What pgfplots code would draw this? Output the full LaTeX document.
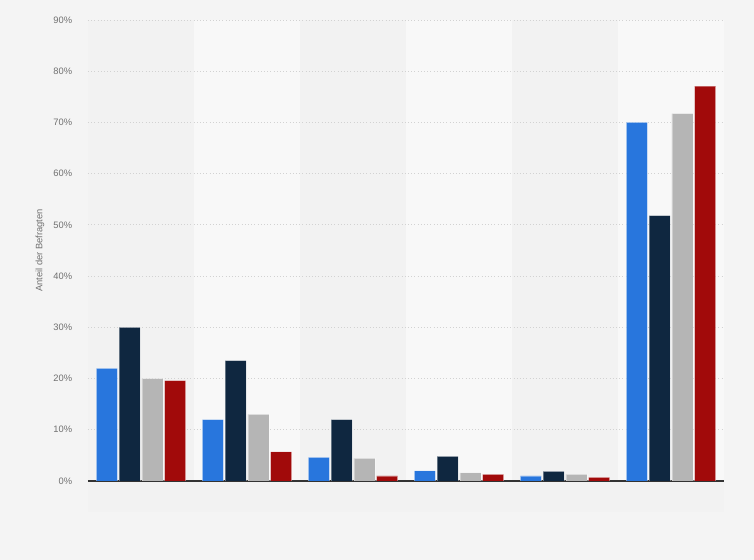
\documentclass[border=0pt]{standalone}
\usepackage{pgfplots}
\pgfplotsset{compat=1.18}
\usepackage{fontspec}
\setmainfont{Liberation Sans}

\definecolor{bg}{HTML}{F4F4F4}
\definecolor{banddark}{HTML}{F2F2F2}
\definecolor{bandlight}{HTML}{F8F8F8}
\definecolor{bandlow}{HTML}{F2F2F2}
\definecolor{sblue}{HTML}{2876DD}
\definecolor{snavy}{HTML}{0F2740}
\definecolor{sgray}{HTML}{B5B5B5}
\definecolor{sred}{HTML}{A10A0A}
\definecolor{ticktext}{HTML}{707070}
\definecolor{gridc}{HTML}{D2D2D2}

\begin{document}
\begin{tikzpicture}[x=1pt,y=1pt]
% 1px = 0.75pt
\fill[bg] (0,0) rectangle (565.5,420);
% strip below the axis
\fill[bandlow] (66,36) rectangle (543,59.25);
% column bands
\fill[banddark]  (66,59.25)    rectangle (145.5,405);
\fill[bandlight] (145.5,59.25) rectangle (225,405);
\fill[banddark]  (225,59.25)   rectangle (304.5,405);
\fill[bandlight] (304.5,59.25) rectangle (384,405);
\fill[banddark]  (384,59.25)   rectangle (463.5,405);
\fill[bandlight] (463.5,59.25) rectangle (543,405);

\begin{axis}[
  at={(66pt,59.25pt)}, anchor=south west,
  scale only axis,
  width=477pt, height=345.75pt,
  xmin=-0.5, xmax=5.5,
  ymin=0, ymax=90,
  ybar=1.35pt, bar width=15.75pt,
  xtick=\empty,
  ytick={0,10,...,90},
  yticklabel={\pgfmathprintnumber{\tick}\%},
  /pgf/number format/assume math mode=true,
  ticklabel style={font=\fontsize{7}{8}\selectfont, text=ticktext},
  yticklabel style={xshift=-8.4pt},
  major tick length=0pt,
  ymajorgrids,
  grid style={gridc, dotted, line width=0.6pt},
  axis x line*=bottom,
  axis y line*=left,
  y axis line style={draw=none},
  x axis line style={-, color=black!80, line width=0.9pt},
  ylabel={Anteil der Befragten},
  every axis y label/.style={at={(axis description cs:0,0.5)}, xshift=-36pt, rotate=90, anchor=center, font=\fontsize{7}{8}\selectfont, text=ticktext},
  every axis plot/.append style={draw=white, draw opacity=0.35, line width=0.5pt},
]
\addplot[fill=sblue] coordinates {(0,22.0) (1,12.0) (2,4.6) (3,2.0) (4,1.0) (5,70.0)};
\addplot[fill=snavy] coordinates {(0,30.0) (1,23.5) (2,12.0) (3,4.8) (4,1.9) (5,51.8)};
\addplot[fill=sgray] coordinates {(0,20.0) (1,13.0) (2,4.4) (3,1.6) (4,1.3) (5,71.7)};
\addplot[fill=sred]  coordinates {(0,19.6) (1,5.7) (2,1.0) (3,1.3) (4,0.7) (5,77.1)};
\end{axis}
\pgfresetboundingbox
\path (0,0) rectangle (565.5,420);
\end{tikzpicture}
\end{document}
